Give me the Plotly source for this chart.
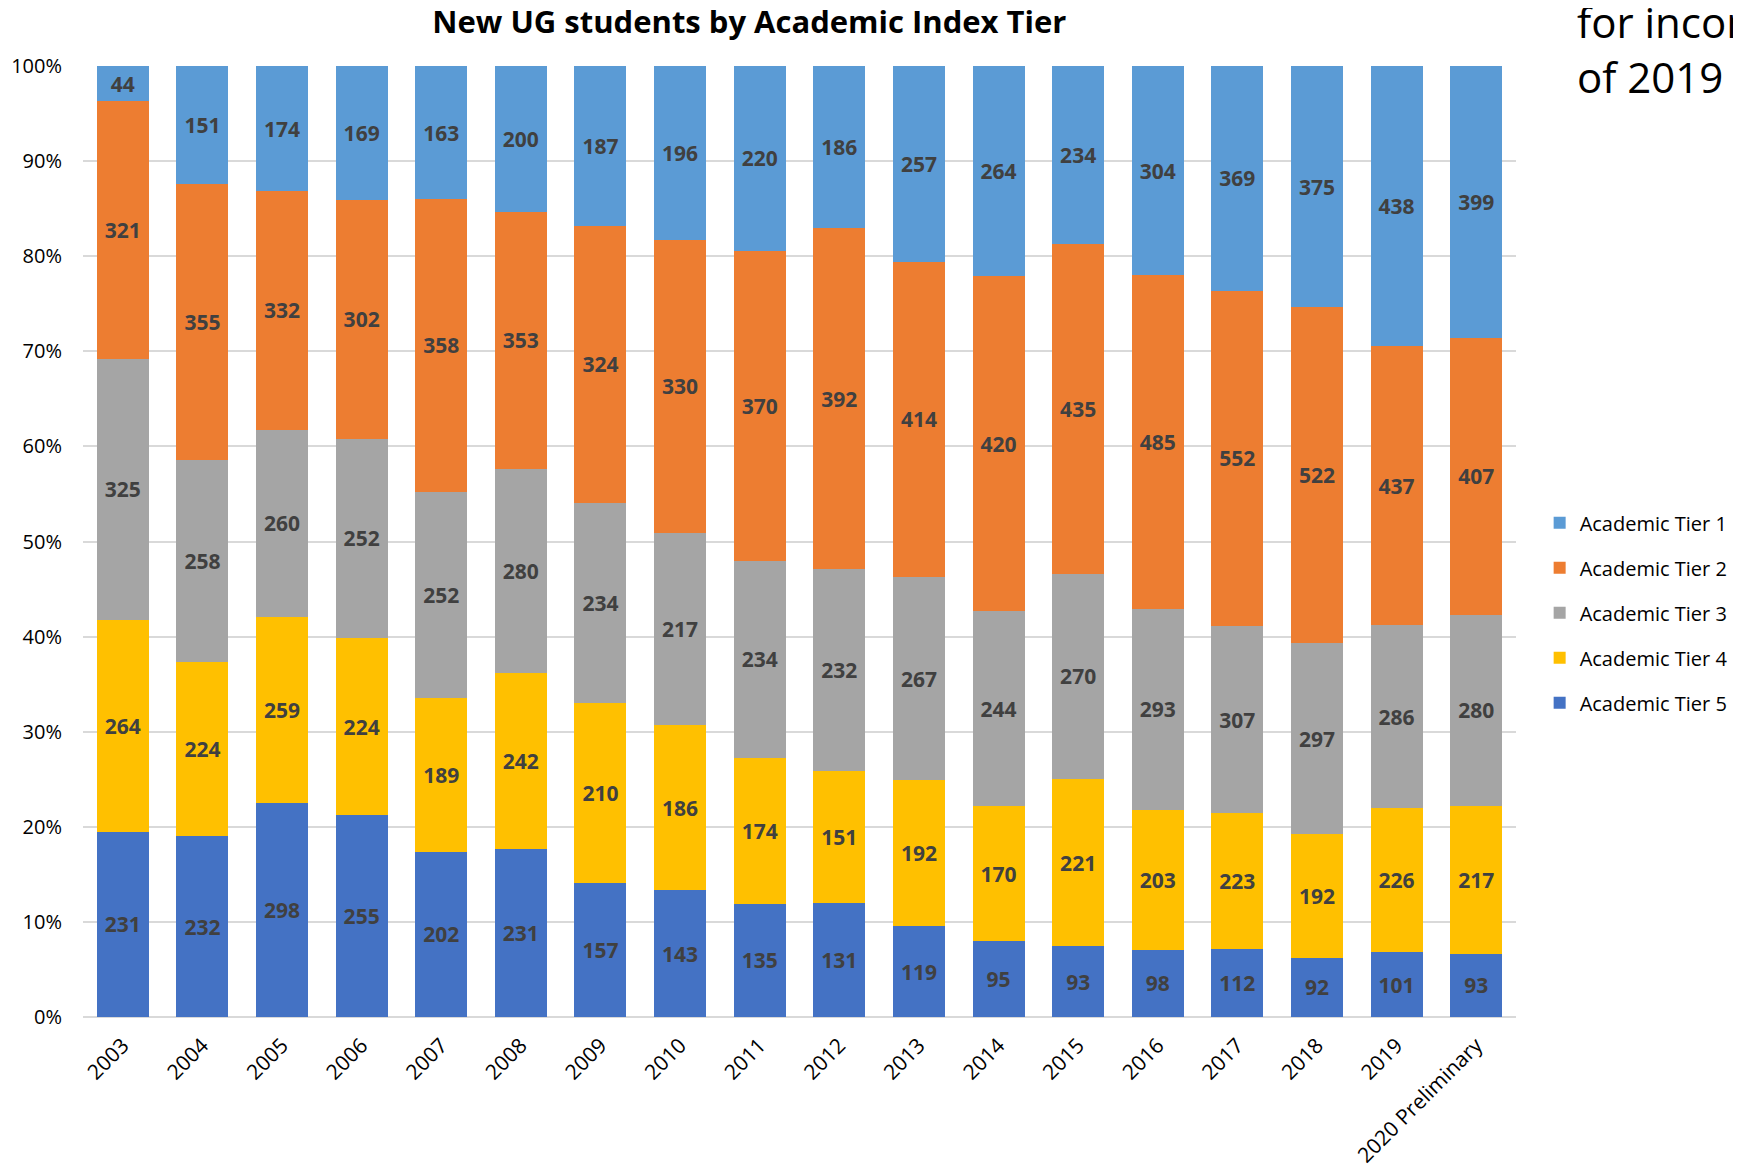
import plotly.graph_objects as go

years = ["2003", "2004", "2005", "2006", "2007", "2008", "2009", "2010", "2011",
         "2012", "2013", "2014", "2015", "2016", "2017", "2018", "2019", "2020 Preliminary"]

tier1 = [44, 151, 174, 169, 163, 200, 187, 196, 220, 186, 257, 264, 234, 304, 369, 375, 438, 399]
tier2 = [321, 355, 332, 302, 358, 353, 324, 330, 370, 392, 414, 420, 435, 485, 552, 522, 437, 407]
tier3 = [325, 258, 260, 252, 252, 280, 234, 217, 234, 232, 267, 244, 270, 293, 307, 297, 286, 280]
tier4 = [264, 224, 259, 224, 189, 242, 210, 186, 174, 151, 192, 170, 221, 203, 223, 192, 226, 217]
tier5 = [231, 232, 298, 255, 202, 231, 157, 143, 135, 131, 119, 95, 93, 98, 112, 92, 101, 93]

series = [
    ("Academic Tier 5", tier5, "#4472C4", 5),
    ("Academic Tier 4", tier4, "#FFC000", 4),
    ("Academic Tier 3", tier3, "#A5A5A5", 3),
    ("Academic Tier 2", tier2, "#ED7D31", 2),
    ("Academic Tier 1", tier1, "#5B9BD5", 1),
]

fig = go.Figure()
for name, vals, color, rank in series:
    fig.add_trace(go.Bar(
        x=years, y=vals, name=name, marker_color=color, marker_line_width=0,
        text=[str(v) for v in vals], textposition="inside", insidetextanchor="middle",
        textangle=0, constraintext="none",
        textfont=dict(family="Open Sans", size=21, color="#404040", weight="bold"),
        legendgroup=name, legendrank=rank,
    ))

fig.update_layout(
    width=1733, height=1159,
    barmode="stack", barnorm="percent", bargap=0.347,
    plot_bgcolor="white", paper_bgcolor="white",
    margin=dict(l=75, r=225, t=57.5, b=150, autoexpand=False),
    font=dict(family="Open Sans", color="#000000"),
    title=dict(text="<b>New UG students by Academic Index Tier</b>",
               x=0.465, xref="paper", xanchor="center", y=0.988, yanchor="middle",
               font=dict(family="Open Sans", size=31, color="#000000")),
    legend=dict(x=1.0165, y=0.425, yanchor="middle", xanchor="left",
                traceorder="grouped", tracegroupgap=16, borderwidth=0,
                font=dict(family="Open Sans", size=20, color="#000000")),
    xaxis=dict(tickangle=-45, tickfont=dict(size=21, family="Open Sans", color="#000000"),
               showline=False, ticks="", ticklabelstandoff=11, automargin=False),
    yaxis=dict(range=[0, 100], dtick=10, ticksuffix="%", gridcolor="#D9D9D9", gridwidth=1.5,
               zeroline=True, zerolinecolor="#D9D9D9", zerolinewidth=2,
               tickfont=dict(size=20, family="Open Sans", color="#000000"),
               ticklabelstandoff=20, showline=False, automargin=False),
)

fig.add_annotation(text="for incoming", xref="paper", yref="paper", x=1.0415, y=1.047,
                   xanchor="left", yanchor="middle", showarrow=False,
                   font=dict(family="Open Sans", size=42, color="#000000"))
fig.add_annotation(text="of 2019", xref="paper", yref="paper", x=1.0415, y=0.989,
                   xanchor="left", yanchor="middle", showarrow=False,
                   font=dict(family="Open Sans", size=42, color="#000000"))

fig.write_html("out.html")
